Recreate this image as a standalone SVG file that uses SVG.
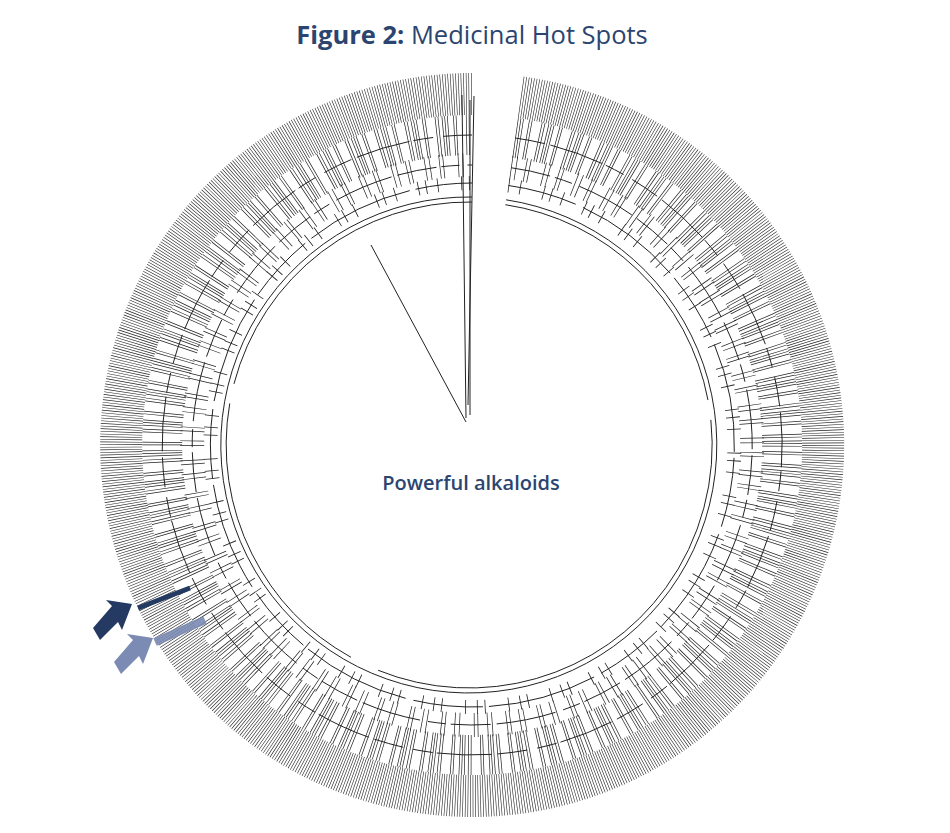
<svg xmlns="http://www.w3.org/2000/svg" width="950" height="833" viewBox="0 0 950 833">
<style>
.t{font-family:"Open Sans","Noto Sans",sans-serif;fill:#2c4570}
.r{fill:none;stroke:#222}
</style>
<rect width="950" height="833" fill="#fff"/>
<text class="t" x="472" y="44" font-size="25.5" text-anchor="middle"><tspan font-weight="bold">Figure 2:</tspan> Medicinal Hot Spots</text>
<g id="tree">
<path class="r" stroke-width="42" stroke-dasharray="0.6 1.9" d="M520.9,97.4 A351,351 0 1 1 472,94"/>
<path class="r" stroke-width="40" stroke-dasharray="0.7 1.8 0.7 1.8 0.7 5 0.7 1.8 0.7 9 0.7 2 0.7 3" d="M515.2,138 A310,310 0 1 1 472,135"/>
<path class="r" stroke-width="24" stroke-dasharray="0.7 4 0.7 9 0.7 3 0.7 14" d="M511,167.7 A280,280 0 1 1 472,165"/>
<path class="r" stroke-width="14" stroke-dasharray="0.8 11 0.8 23 0.8 7" d="M508.5,185.5 A262,262 0 1 1 472,183"/>
<path class="r" stroke-width="1" stroke-dasharray="30 6 55 4 20 10" d="M515.2,138 A310,310 0 1 1 472,135"/>
<path class="r" stroke-width="1" stroke-dasharray="40 5 18 8 60 6" d="M511,167.7 A280,280 0 1 1 472,165"/>
<path class="r" stroke-width="1" stroke-dasharray="70 8 110 6" d="M508.5,185.5 A262,262 0 1 1 472,183"/>
<path class="r" stroke-width="1" d="M506.1,199.8 A248,248 0 1 1 472,197"/>
<path class="r" stroke-width="1" stroke-dasharray="300 20 500 30" d="M505.4,204.7 A243,243 0 1 1 472,202"/>
<path class="r" stroke-width="1" d="M466,422 L371,245 M466,418 L462,95 M470,415 L470,100 M468,405 L474,96"/>
</g>
<g id="highlights">
<path d="M138,608 L190,588" stroke="#243a63" stroke-width="5"/>
<path d="M155,642 L205,620" stroke="#7b8bb3" stroke-width="8" opacity="0.9"/>
<path d="M93,628 L112,606 L106,600 L132,604 L122,630 L118,622 L100,640 Z" fill="#243a63"/>
<path d="M114,662 L133,640 L127,634 L153,638 L143,664 L139,656 L121,674 Z" fill="#7b8bb3"/>
</g>
<text class="t" x="471" y="490" font-size="20" font-weight="600" text-anchor="middle">Powerful alkaloids</text>
</svg>
